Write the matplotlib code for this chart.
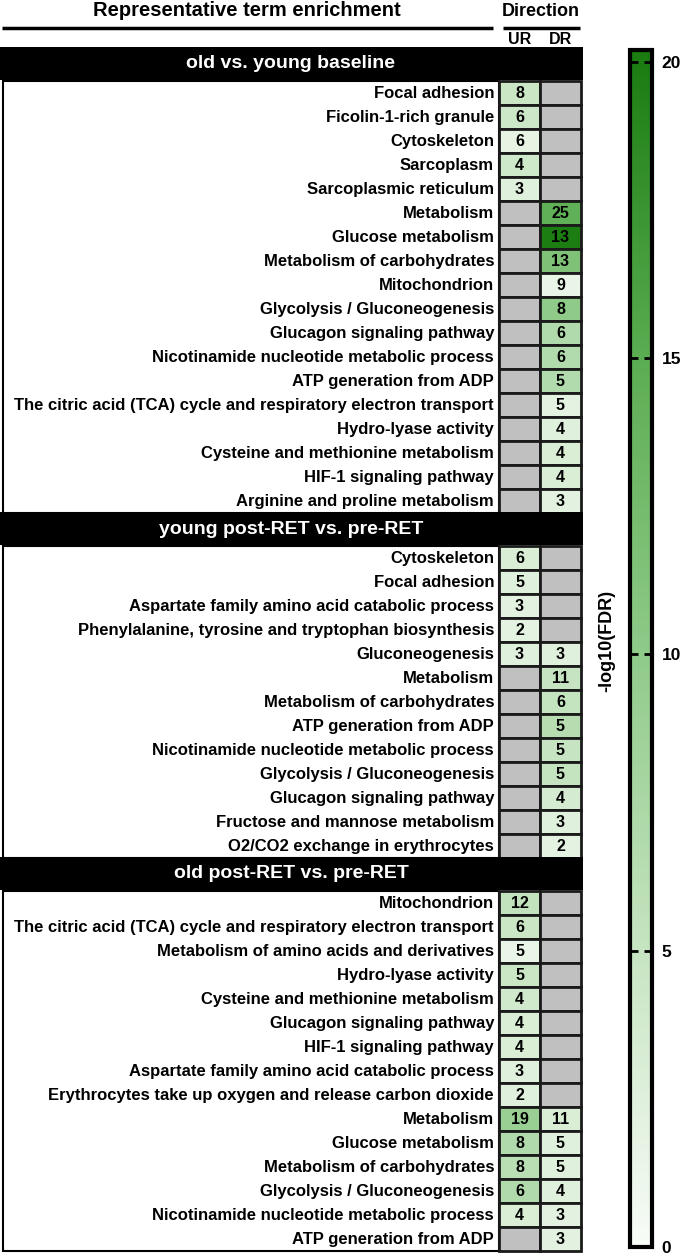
import matplotlib.pyplot as plt
import numpy as np
from matplotlib.patches import Rectangle
from matplotlib.colors import LinearSegmentedColormap, Normalize
from matplotlib.cm import ScalarMappable

plt.rcParams['font.family'] = ['Liberation Sans', 'DejaVu Sans']
plt.rcParams['font.weight'] = 'bold'

# --- data -------------------------------------------------------------
section_names = ['old vs. young baseline',
                 'young post-RET vs. pre-RET',
                 'old post-RET vs. pre-RET']

terms_1 = ['Focal adhesion', 'Ficolin-1-rich granule', 'Cytoskeleton', 'Sarcoplasm',
           'Sarcoplasmic reticulum', 'Metabolism', 'Glucose metabolism',
           'Metabolism of carbohydrates', 'Mitochondrion', 'Glycolysis / Gluconeogenesis',
           'Glucagon signaling pathway', 'Nicotinamide nucleotide metabolic process',
           'ATP generation from ADP',
           'The citric acid (TCA) cycle and respiratory electron transport',
           'Hydro-lyase activity', 'Cysteine and methionine metabolism',
           'HIF-1 signaling pathway', 'Arginine and proline metabolism']
ur_count_1 = [8, 6, 6, 4, 3, None, None, None, None, None, None, None, None, None, None, None, None, None]
dr_count_1 = [None, None, None, None, None, 25, 13, 13, 9, 8, 6, 6, 5, 5, 4, 4, 4, 3]
ur_fdr_1 = [4.6, 4.4, 1.8, 4.2, 2.6, None, None, None, None, None, None, None, None, None, None, None, None, None]
dr_fdr_1 = [None, None, None, None, None, 14.5, 20.0, 11.5, 1.5, 10.0, 7.0, 6.8, 6.8, 2.0, 2.6, 3.0, 3.0, 2.2]

terms_2 = ['Cytoskeleton', 'Focal adhesion', 'Aspartate family amino acid catabolic process',
           'Phenylalanine, tyrosine and tryptophan biosynthesis', 'Gluconeogenesis',
           'Metabolism', 'Metabolism of carbohydrates', 'ATP generation from ADP',
           'Nicotinamide nucleotide metabolic process', 'Glycolysis / Gluconeogenesis',
           'Glucagon signaling pathway', 'Fructose and mannose metabolism',
           'O2/CO2 exchange in erythrocytes']
ur_count_2 = [6, 5, 3, 2, 3, None, None, None, None, None, None, None, None]
dr_count_2 = [None, None, None, None, 3, 11, 6, 5, 5, 5, 4, 3, 2]
ur_fdr_2 = [3.0, 2.6, 2.2, 2.0, 2.6, None, None, None, None, None, None, None, None]
dr_fdr_2 = [None, None, None, None, 2.6, 5.0, 5.2, 6.5, 5.0, 5.2, 3.6, 2.6, 2.0]

terms_3 = ['Mitochondrion', 'The citric acid (TCA) cycle and respiratory electron transport',
           'Metabolism of amino acids and derivatives', 'Hydro-lyase activity',
           'Cysteine and methionine metabolism', 'Glucagon signaling pathway',
           'HIF-1 signaling pathway', 'Aspartate family amino acid catabolic process',
           'Erythrocytes take up oxygen and release carbon dioxide', 'Metabolism',
           'Glucose metabolism', 'Metabolism of carbohydrates', 'Glycolysis / Gluconeogenesis',
           'Nicotinamide nucleotide metabolic process', 'ATP generation from ADP']
ur_count_3 = [12, 6, 5, 5, 4, 4, 4, 3, 2, 19, 8, 8, 6, 4, None]
dr_count_3 = [None, None, None, None, None, None, None, None, None, 11, 5, 5, 4, 3, 3]
ur_fdr_3 = [5.5, 4.6, 1.5, 4.6, 4.0, 3.0, 3.0, 2.6, 2.6, 9.0, 7.0, 6.2, 7.0, 3.0, None]
dr_fdr_3 = [None, None, None, None, None, None, None, None, None, 3.0, 2.6, 2.6, 2.6, 2.2, 2.2]

sections = [
    (terms_1, ur_count_1, dr_count_1, ur_fdr_1, dr_fdr_1),
    (terms_2, ur_count_2, dr_count_2, ur_fdr_2, dr_fdr_2),
    (terms_3, ur_count_3, dr_count_3, ur_fdr_3, dr_fdr_3),
]

# --- colours ----------------------------------------------------------
VMAX = 20.2
cmap = LinearSegmentedColormap.from_list('fdr_green', [
    (0.0, '#f8fcf7'),
    (5 / VMAX, '#c6e4c1'),
    (10 / VMAX, '#8fca89'),
    (15 / VMAX, '#5bad51'),
    (20 / VMAX, '#1c7d13'),
    (1.0, '#1a7b11'),
])
norm = Normalize(vmin=0, vmax=VMAX)
EMPTY = '#c0c0c0'

# --- figure -----------------------------------------------------------
fig = plt.figure(figsize=(6.84, 12.56), dpi=100)
ax = fig.add_axes([0, 0, 1, 1])
ax.set_xlim(0, 684)
ax.set_ylim(1256, 0)
ax.axis('off')

ROW = 24
CELL_X = 499
CELL_W = 41
LABEL_X = 494

# top headings
ax.text(247, 11, 'Representative term enrichment', ha='center', va='center', fontsize=14.5)
ax.plot([2, 493], [28, 28], color='black', lw=2.5, solid_capstyle='butt')
ax.text(541, 11, 'Direction', ha='center', va='center', fontsize=13)
ax.plot([503, 580], [28, 28], color='black', lw=2.5, solid_capstyle='butt')
ax.text(CELL_X + CELL_W / 2, 40, 'UR', ha='center', va='center', fontsize=11.5)
ax.text(CELL_X + CELL_W * 1.5, 40, 'DR', ha='center', va='center', fontsize=11.5)

y = 93  # centre of first row
for name, (terms, ur_c, dr_c, ur_v, dr_v) in zip(section_names, sections):
    n = len(terms)
    top = y - 46
    ax.add_patch(Rectangle((0, top), 583, 33, fc='black', ec='none'))
    ax.text(291, top + 17, name, color='white', ha='center', va='center', fontsize=14)
    ax.add_patch(Rectangle((3, y - ROW / 2), CELL_X - 3, ROW * n, fc='white', ec='black', lw=1.5))
    for i, term in enumerate(terms):
        yc = y + ROW * i
        ax.text(LABEL_X, yc + 0.5, term, ha='right', va='center', fontsize=12)
        for j, (cnt, val) in enumerate([(ur_c[i], ur_v[i]), (dr_c[i], dr_v[i])]):
            fc = EMPTY if val is None else cmap(norm(val))
            ax.add_patch(Rectangle((CELL_X + CELL_W * j, yc - ROW / 2), CELL_W, ROW,
                                   fc=fc, ec='#1a1a1a', lw=2))
            if cnt is not None:
                ax.text(CELL_X + CELL_W * (j + 0.5), yc + 0.5, str(cnt), ha='center',
                        va='center', fontsize=11.5)
    y += ROW * (n - 1) + 57

# --- colour bar -------------------------------------------------------
cax = fig.add_axes([630 / 684, (1256 - 1247) / 1256, 22 / 684, 1197 / 1256])
cb = fig.colorbar(ScalarMappable(norm=norm, cmap=cmap), cax=cax, ticks=[0, 5, 10, 15, 20])
cb.outline.set_linewidth(3)
cax.tick_params(direction='in', length=6, width=2, left=True, right=True, labelsize=12.5, pad=7)
for t in cax.get_yticklabels():
    t.set_fontweight('bold')
fig.text(607 / 684, 1 - 641 / 1256, '-log10(FDR)', rotation=90, ha='center', va='center',
         fontsize=13)

fig.savefig('out.png', dpi=100)
